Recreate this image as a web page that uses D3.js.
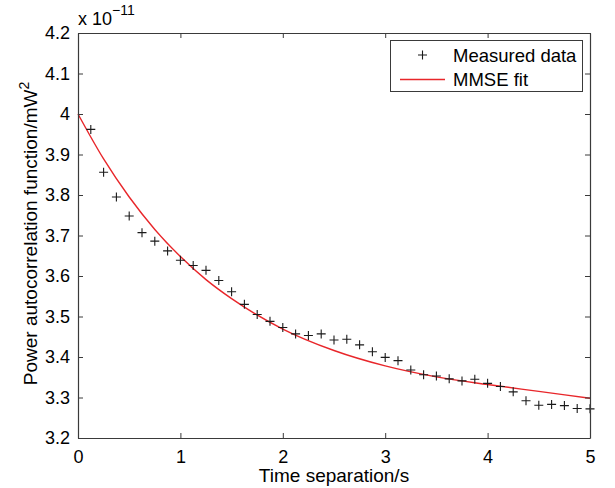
<!DOCTYPE html>
<html>
<head>
<meta charset="utf-8">
<script src="https://cdn.jsdelivr.net/npm/d3@7"></script>
<style>
  html, body { margin: 0; padding: 0; background: #fff; }
  svg { display: block; font-family: Arial, "Liberation Sans", Helvetica, sans-serif; }
</style>
</head>
<body>
<div id="chart"></div>
<script>
// Measured samples (time in s, value in units of 1e-11 mW^2)
const measuredTime = [
  0.125, 0.25, 0.375, 0.5, 0.625, 0.75, 0.875, 1.0, 1.125, 1.25,
  1.375, 1.5, 1.625, 1.75, 1.875, 2.0, 2.125, 2.25, 2.375, 2.5,
  2.625, 2.75, 2.875, 3.0, 3.125, 3.25, 3.375, 3.5, 3.625, 3.75,
  3.875, 4.0, 4.125, 4.25, 4.375, 4.5, 4.625, 4.75, 4.875, 5.0
];
const measuredValue = [
  3.962, 3.856, 3.795, 3.748, 3.707, 3.686, 3.662, 3.639, 3.626, 3.614,
  3.589, 3.561, 3.530, 3.505, 3.488, 3.473, 3.457, 3.453, 3.457, 3.442,
  3.444, 3.430, 3.413, 3.399, 3.391, 3.368, 3.356, 3.353, 3.346, 3.341,
  3.345, 3.335, 3.327, 3.314, 3.292, 3.281, 3.283, 3.280, 3.273, 3.272
];
// MMSE fit curve
const fitTime  = [0, 0.25, 0.5, 0.75, 1, 1.25, 1.5, 2, 2.5, 3, 3.5, 4, 4.5, 5];
const fitValue = [4.000, 3.889, 3.795, 3.715, 3.648, 3.591, 3.544, 3.469, 3.416, 3.378, 3.351, 3.332, 3.315, 3.298];

const xTicks = [0, 1, 2, 3, 4, 5];
const yTicks = [3.2, 3.3, 3.4, 3.5, 3.6, 3.7, 3.8, 3.9, 4.0, 4.1, 4.2];
const legendLabels = ["Measured data", "MMSE fit"];

const W = 615, H = 488;
const m = { left: 78, right: 25, top: 33, bottom: 50 };
const pw = W - m.left - m.right, ph = H - m.top - m.bottom;

const AXIS = "#3a3a3a", RED = "#e8262a", MARK = "#1a1a1a";

const svg = d3.select("#chart").append("svg").attr("width", W).attr("height", H);
const g = svg.append("g").attr("transform", `translate(${m.left},${m.top})`);

const x = d3.scaleLinear().domain([0, 5]).range([0, pw]);
const y = d3.scaleLinear().domain([3.2, 4.2]).range([ph, 0]);

// fit line
const line = d3.line().x(d => x(d[0])).y(d => y(d[1])).curve(d3.curveMonotoneX);
g.append("path")
  .datum(fitTime.map((t, i) => [t, fitValue[i]]))
  .attr("d", line)
  .attr("fill", "none")
  .attr("stroke", RED)
  .attr("stroke-width", 1.4);

// measured markers
const s = 4.5;
g.append("g").selectAll("path.mark")
  .data(measuredTime.map((t, i) => [t, measuredValue[i]]))
  .enter().append("path")
  .attr("class", "mark")
  .attr("d", d => `M${x(d[0]) - s},${y(d[1])}h${2 * s}M${x(d[0])},${y(d[1]) - s}v${2 * s}`)
  .attr("stroke", MARK)
  .attr("stroke-width", 1.1)
  .attr("fill", "none");

// axes (ticks pointing inward, box on all sides)
const fmtY = d => (d === 4 ? "4" : d3.format(".1f")(d));
const axStyle = sel => {
  sel.select(".domain").attr("stroke", AXIS).attr("stroke-width", 1.2);
  sel.selectAll(".tick line").attr("stroke", AXIS);
  sel.selectAll(".tick text").attr("fill", "#000").attr("font-size", 18)
    .attr("font-family", "Arial, 'Liberation Sans', sans-serif");
};
g.append("g").attr("transform", `translate(0,${ph})`)
  .call(d3.axisBottom(x).tickValues(xTicks).tickSizeInner(-5).tickSizeOuter(0).tickPadding(12).tickFormat(d3.format("d")))
  .call(axStyle);
g.append("g")
  .call(d3.axisLeft(y).tickValues(yTicks).tickSizeInner(-5).tickSizeOuter(0).tickPadding(8).tickFormat(fmtY))
  .call(axStyle);
g.append("g")
  .call(d3.axisTop(x).tickValues(xTicks).tickSizeInner(-5).tickSizeOuter(0).tickFormat(""))
  .call(axStyle);
g.append("g").attr("transform", `translate(${pw},0)`)
  .call(d3.axisRight(y).tickValues(yTicks).tickSizeInner(-5).tickSizeOuter(0).tickFormat(""))
  .call(axStyle);

// exponent label
const ex = svg.append("text").attr("x", m.left).attr("y", 25).attr("font-size", 18).attr("fill", "#000");
ex.append("tspan").text("x 10");
ex.append("tspan").attr("dy", -10).attr("font-size", 14).text("\u221211");

// axis titles
svg.append("text")
  .attr("x", m.left + pw / 2).attr("y", 482)
  .attr("text-anchor", "middle").attr("font-size", 19).attr("fill", "#000")
  .text("Time separation/s");

const yl = svg.append("text")
  .attr("transform", `translate(37,${m.top + ph / 2 - 2}) rotate(-90)`)
  .attr("text-anchor", "middle").attr("font-size", 19).attr("fill", "#000");
yl.append("tspan").text("Power autocorrelation function/mW");
yl.append("tspan").attr("dy", -8).attr("font-size", 14).text("2");

// legend
const lg = svg.append("g");
lg.append("rect")
  .attr("x", 390.5).attr("y", 40.5).attr("width", 192).attr("height", 51)
  .attr("fill", "#fff").attr("stroke", AXIS).attr("stroke-width", 1);
lg.append("path")
  .attr("d", `M${422.5 - s},55h${2 * s}M422.5,${55 - s}v${2 * s}`)
  .attr("stroke", MARK).attr("stroke-width", 1.1);
lg.append("line")
  .attr("x1", 400).attr("x2", 445).attr("y1", 79.5).attr("y2", 79.5)
  .attr("stroke", RED).attr("stroke-width", 1.4);
lg.selectAll("text.leg").data(legendLabels).enter().append("text")
  .attr("class", "leg")
  .attr("x", 453).attr("y", (d, i) => 61.5 + i * 24.5)
  .attr("font-size", 18.5).attr("fill", "#000")
  .text(d => d);
</script>
</body>
</html>
